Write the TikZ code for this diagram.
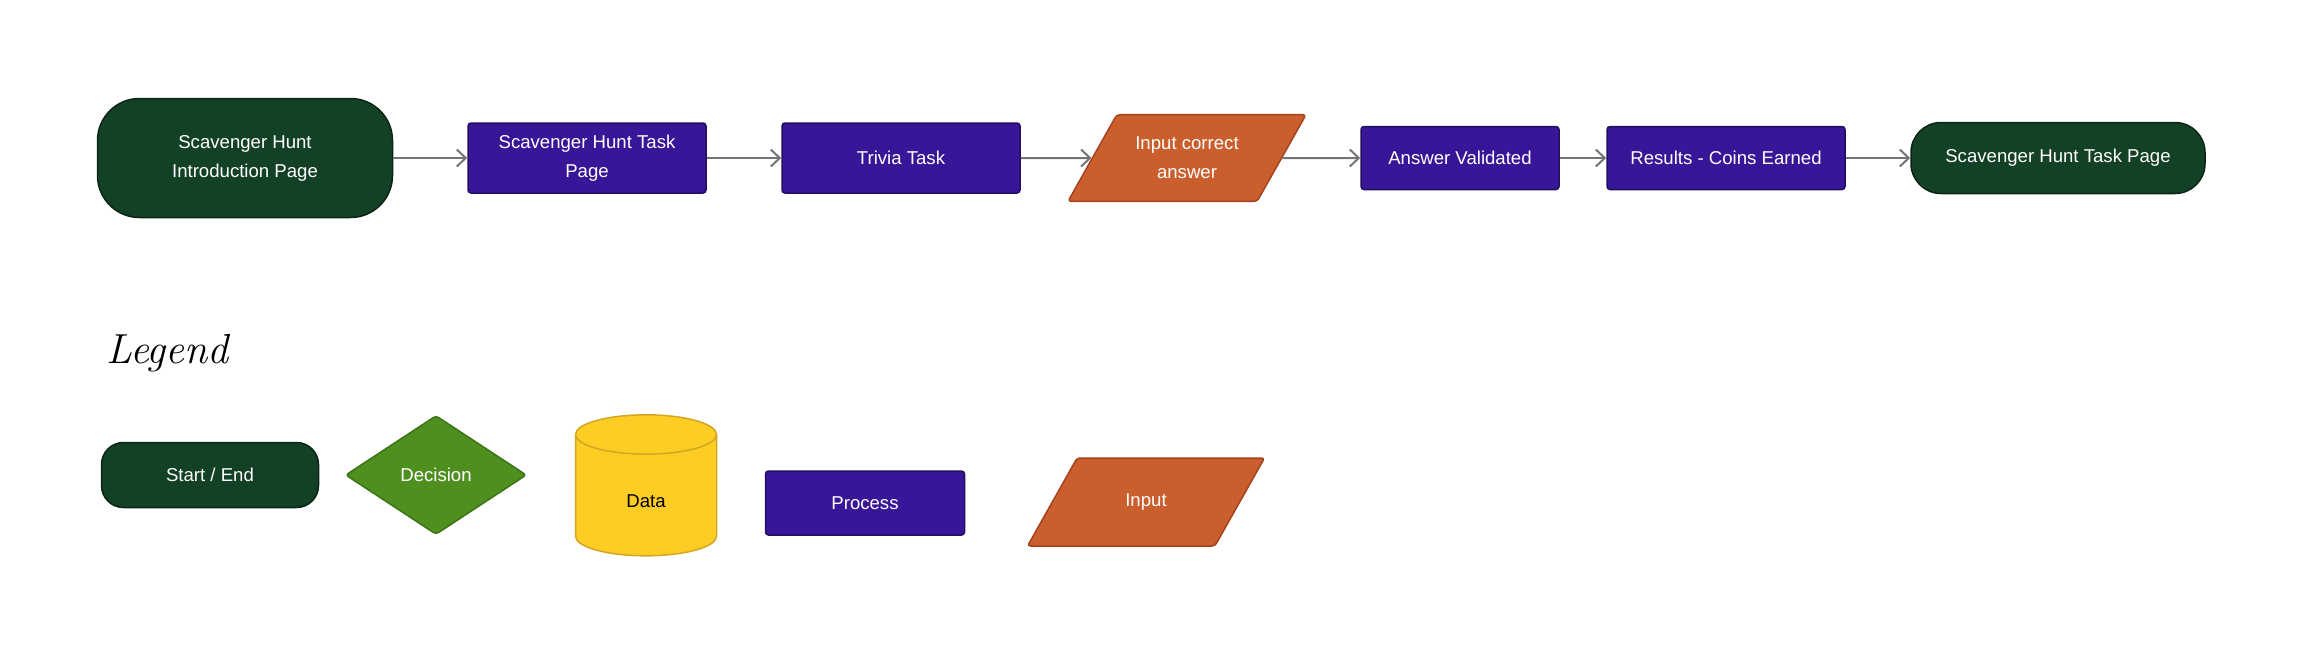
\documentclass[tikz,border=0pt]{standalone}
\usepackage{fontspec}
\newfontfamily\flowfont{Liberation Sans}
\usetikzlibrary{positioning}
\usetikzlibrary{shapes.geometric}
\usetikzlibrary{arrows.meta}
\usepackage{xcolor}
\definecolor{termgreen}{HTML}{134125}
\definecolor{termedge}{HTML}{0B2414}
\definecolor{procpurple}{HTML}{391598}
\definecolor{procedge}{HTML}{22105F}
\definecolor{inorange}{HTML}{CB5E2D}
\definecolor{inedge}{HTML}{A4431F}
\definecolor{decgreen}{HTML}{4F8F20}
\definecolor{decedge}{HTML}{3C7417}
\definecolor{datayellow}{HTML}{FDCD24}
\definecolor{dataedge}{HTML}{D3A623}
\definecolor{arrowgray}{HTML}{747474}

\begin{document}
\begin{tikzpicture}[x=0.5pt,y=-0.5pt,
  box/.style={font=\flowfont\fontsize{9.3}{14.5}\selectfont, text=white, align=center, inner sep=0pt, line width=0.75pt},
  terminal/.style={box, draw=termedge, fill=termgreen, rectangle},
  process/.style={box, draw=procedge, fill=procpurple, rectangle, rounded corners=1.5pt, minimum width=119pt, minimum height=35pt},
  inputbox/.style={box, draw=inedge, fill=inorange, trapezium, trapezium left angle=60.6, trapezium right angle=119.4, trapezium stretches body, rounded corners=1.5pt, minimum width=119pt},
  decision/.style={box, draw=decedge, fill=decgreen, diamond, aspect=1.52, rounded corners=1.5pt, minimum width=90.5pt, minimum height=59.5pt},
  datastore/.style={box, text=black, draw=dataedge, fill=datayellow, cylinder, shape border rotate=90, aspect=1, minimum width=70.5pt, minimum height=70.5pt, text height=12.1pt, text depth=0pt},
  flow/.style={draw=arrowgray, line width=1pt, -{Straight Barb[length=4.5pt,width=8.5pt]}}]

\useasboundingbox (0,0) rectangle (2304,655);

% flow
\node[terminal, rounded corners=21pt, minimum width=147.5pt, minimum height=59.5pt] (intro) at (245,158) {Scavenger Hunt\\Introduction Page};
\node[process] (taskpage) at (587,158) {Scavenger Hunt Task\\Page};
\node[process] (trivia) at (901,158) {Trivia Task};
\node[inputbox, inner ysep=11.15pt] (answerin) at (1187,158) {Input correct\\answer};
\node[process, minimum width=99pt, minimum height=31.5pt] (validated) at (1460,158) {Answer Validated};
\node[process, minimum height=31.5pt] (results) at (1726,158) {Results - Coins Earned};
\node[terminal, rounded corners=15pt, minimum width=147pt, minimum height=35.5pt] (taskend) at (2058,158) {Scavenger Hunt Task Page};

\draw[flow] (intro) -- (taskpage);
\draw[flow] (taskpage) -- (trivia);
\draw[flow] (trivia) -- (answerin);
\draw[flow] (answerin) -- (validated);
\draw[flow] (validated) -- (results);
\draw[flow] (results) -- (taskend);

% legend
\node[anchor=base west, inner sep=0pt, font=\fontsize{21}{24}\selectfont\itshape] (legend) at (106,363) {Legend};

\node[terminal, rounded corners=11pt, minimum width=108.5pt, minimum height=32.5pt] (startend) at (210,475) {Start / End};
\node[decision] (decide) at (436,475) {Decision};
\node[datastore] (data) at (646,495.5) {Data};
\node[process, minimum width=99.5pt, minimum height=32pt] (proc) at (865,503) {Process};
\node[inputbox, minimum width=118.5pt, inner ysep=17.7pt, text height=6.7pt, text depth=1.9pt] (inp) at (1146,502) {Input};

\end{tikzpicture}
\end{document}
